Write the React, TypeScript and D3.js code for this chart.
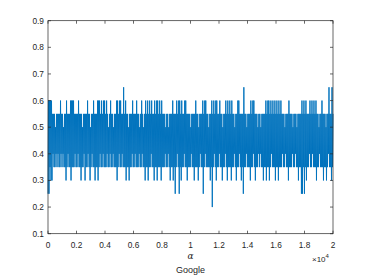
import React from "react";
import * as d3 from "d3";

// x axis: sample index, shown as value / 10^4
const xTicks = [0, 2000, 4000, 6000, 8000, 10000, 12000, 14000, 16000, 18000, 20000];
const xTickLabels = ["0", "0.2", "0.4", "0.6", "0.8", "1", "1.2", "1.4", "1.6", "1.8", "2"];
const yTicks = [0.1, 0.2, 0.3, 0.4, 0.5, 0.6, 0.7, 0.8, 0.9];
const yTickLabels = ["0.1", "0.2", "0.3", "0.4", "0.5", "0.6", "0.7", "0.8", "0.9"];

// upper swing of the signal, read left to right
const highs = [
  0.6, 0.6, 0.6, 0.6, 0.55, 0.55, 0.55, 0.5, 0.55, 0.55, 0.55, 0.55, 0.6, 0.55, 0.55, 0.5, 0.55, 0.55, 0.6, 0.55,
  0.55, 0.55, 0.6, 0.6, 0.6, 0.6, 0.55, 0.55, 0.55, 0.55, 0.6, 0.55, 0.55, 0.55, 0.5, 0.55, 0.55, 0.55, 0.55, 0.6,
  0.55, 0.55, 0.5, 0.55, 0.55, 0.6, 0.55, 0.55, 0.55, 0.6, 0.6, 0.6, 0.55, 0.6, 0.55, 0.6, 0.6, 0.55, 0.6, 0.55,
  0.5, 0.55, 0.6, 0.55, 0.55, 0.5, 0.55, 0.55, 0.6, 0.6, 0.55, 0.6, 0.6, 0.55, 0.55, 0.65, 0.55, 0.6, 0.55, 0.55,
  0.5, 0.55, 0.55, 0.55, 0.6, 0.55, 0.55, 0.55, 0.6, 0.55, 0.55, 0.5, 0.55, 0.6, 0.55, 0.5, 0.55, 0.6, 0.55, 0.6,
  0.55, 0.6, 0.55, 0.6, 0.55, 0.55, 0.6, 0.55, 0.6, 0.6, 0.55, 0.6, 0.55, 0.6, 0.55, 0.55, 0.55, 0.5, 0.55, 0.55,
  0.5, 0.55, 0.55, 0.55, 0.6, 0.55, 0.55, 0.55, 0.6, 0.55, 0.6, 0.6, 0.55, 0.6, 0.55, 0.55, 0.6, 0.6, 0.55, 0.55,
  0.55, 0.55, 0.5, 0.55, 0.55, 0.55, 0.55, 0.6, 0.55, 0.55, 0.5, 0.55, 0.55, 0.55, 0.6, 0.55, 0.6, 0.6, 0.55, 0.55,
  0.5, 0.55, 0.55, 0.6, 0.55, 0.6, 0.55, 0.6, 0.6, 0.55, 0.55, 0.6, 0.55, 0.55, 0.5, 0.55, 0.55, 0.6, 0.55, 0.6,
  0.55, 0.6, 0.55, 0.6, 0.55, 0.55, 0.5, 0.55, 0.55, 0.6, 0.6, 0.55, 0.55, 0.55, 0.55, 0.65, 0.55, 0.55, 0.5, 0.55,
  0.55, 0.55, 0.6, 0.55, 0.6, 0.6, 0.55, 0.55, 0.55, 0.5, 0.55, 0.55, 0.5, 0.55, 0.55, 0.55, 0.55, 0.6, 0.55, 0.6,
  0.6, 0.55, 0.6, 0.55, 0.6, 0.55, 0.6, 0.55, 0.6, 0.55, 0.6, 0.55, 0.6, 0.55, 0.55, 0.55, 0.5, 0.55, 0.55, 0.55,
  0.6, 0.55, 0.55, 0.55, 0.5, 0.55, 0.55, 0.55, 0.5, 0.55, 0.55, 0.55, 0.55, 0.6, 0.55, 0.6, 0.55, 0.6, 0.55, 0.55,
  0.55, 0.6, 0.55, 0.6, 0.55, 0.6, 0.55, 0.6, 0.55, 0.55, 0.5, 0.55, 0.55, 0.6, 0.55, 0.55, 0.55, 0.5, 0.55, 0.55,
  0.65, 0.55, 0.55, 0.65, 0.55,
];

// lower swing of the signal, read left to right
const lows = [
  0.25, 0.25, 0.35, 0.3, 0.3, 0.4, 0.35, 0.35, 0.4, 0.35, 0.4, 0.35, 0.35, 0.4, 0.35, 0.4, 0.35, 0.35, 0.3, 0.35,
  0.4, 0.35, 0.35, 0.3, 0.35, 0.35, 0.35, 0.4, 0.35, 0.35, 0.4, 0.35, 0.35, 0.3, 0.35, 0.35, 0.4, 0.3, 0.35, 0.35,
  0.4, 0.35, 0.3, 0.35, 0.4, 0.35, 0.35, 0.3, 0.35, 0.35, 0.3, 0.35, 0.4, 0.35, 0.35, 0.4, 0.35, 0.35, 0.35, 0.4,
  0.35, 0.35, 0.4, 0.35, 0.35, 0.4, 0.35, 0.35, 0.35, 0.3, 0.35, 0.4, 0.35, 0.35, 0.4, 0.35, 0.35, 0.35, 0.3, 0.35,
  0.35, 0.3, 0.35, 0.35, 0.4, 0.35, 0.35, 0.4, 0.35, 0.35, 0.35, 0.4, 0.35, 0.35, 0.4, 0.35, 0.35, 0.3, 0.35, 0.35,
  0.3, 0.35, 0.35, 0.4, 0.35, 0.35, 0.3, 0.35, 0.35, 0.3, 0.35, 0.35, 0.35, 0.3, 0.35, 0.35, 0.35, 0.4, 0.35, 0.35,
  0.4, 0.35, 0.3, 0.35, 0.35, 0.3, 0.35, 0.25, 0.35, 0.4, 0.35, 0.25, 0.35, 0.3, 0.35, 0.35, 0.4, 0.35, 0.35, 0.3,
  0.35, 0.35, 0.35, 0.4, 0.35, 0.35, 0.3, 0.35, 0.35, 0.35, 0.3, 0.35, 0.4, 0.35, 0.35, 0.25, 0.35, 0.4, 0.35, 0.35,
  0.35, 0.35, 0.3, 0.35, 0.2, 0.35, 0.4, 0.35, 0.3, 0.35, 0.35, 0.4, 0.35, 0.35, 0.3, 0.35, 0.35, 0.4, 0.35, 0.3,
  0.35, 0.35, 0.35, 0.3, 0.35, 0.35, 0.4, 0.35, 0.3, 0.35, 0.35, 0.4, 0.35, 0.3, 0.35, 0.25, 0.35, 0.35, 0.4, 0.35,
  0.35, 0.35, 0.3, 0.35, 0.35, 0.4, 0.35, 0.3, 0.35, 0.35, 0.4, 0.35, 0.4, 0.35, 0.35, 0.3, 0.35, 0.35, 0.3, 0.35,
  0.35, 0.3, 0.35, 0.4, 0.35, 0.35, 0.35, 0.3, 0.35, 0.35, 0.3, 0.35, 0.35, 0.35, 0.4, 0.35, 0.35, 0.4, 0.35, 0.35,
  0.3, 0.35, 0.35, 0.35, 0.4, 0.35, 0.35, 0.4, 0.35, 0.35, 0.3, 0.35, 0.35, 0.25, 0.25, 0.35, 0.25, 0.35, 0.3, 0.35,
  0.35, 0.4, 0.35, 0.35, 0.4, 0.35, 0.35, 0.35, 0.3, 0.35, 0.35, 0.4, 0.35, 0.35, 0.35, 0.3, 0.35, 0.35, 0.3, 0.35,
  0.4, 0.35, 0.35, 0.3, 0.35,
];

const W = 368;
const H = 276;
const margin = { top: 20.7, right: 35, bottom: 42.3, left: 48 };
const axisColor = "#262626";
const lineColor = "#0072BD";
const font = "'Liberation Sans', Arial, Helvetica, sans-serif";

export default function App() {
  const x = d3.scaleLinear().domain([0, 20000]).range([margin.left, W - margin.right]);
  const y = d3.scaleLinear().domain([0.1, 0.9]).range([H - margin.bottom, margin.top]);

  // interleave the swings into one series
  const samples: number[] = [];
  highs.forEach((h, i) => {
    samples.push(lows[i]);
    samples.push(h);
  });
  const step = 20000 / (samples.length - 1);

  const line = d3
    .line<number>()
    .x((_, i) => x(i * step))
    .y((d) => y(d));

  const x0 = x.range()[0];
  const x1 = x.range()[1];
  const y0 = y.range()[0];
  const y1 = y.range()[1];
  const tick = 3;

  return (
    <svg
      width={W}
      height={H}
      style={{ position: "absolute", left: 0, top: 0, background: "#fff" }}
      fontFamily={font}
    >
      <rect x={0} y={0} width={W} height={H} fill="#fff" />
      <path d={line(samples) ?? ""} fill="none" stroke={lineColor} strokeWidth={0.95} />

      {/* box */}
      <rect x={x0} y={y1} width={x1 - x0} height={y0 - y1} fill="none" stroke={axisColor} strokeWidth={0.7} />

      {xTicks.map((t, i) => (
        <g key={"x" + t}>
          <line x1={x(t)} x2={x(t)} y1={y0} y2={y0 - tick} stroke={axisColor} strokeWidth={0.7} />
          <line x1={x(t)} x2={x(t)} y1={y1} y2={y1 + tick} stroke={axisColor} strokeWidth={0.7} />
          <text x={x(t)} y={y0 + 14} textAnchor="middle" fontSize={8.3} fill={axisColor}>
            {xTickLabels[i]}
          </text>
        </g>
      ))}

      {yTicks.map((t, i) => (
        <g key={"y" + t}>
          <line x1={x0} x2={x0 + tick} y1={y(t)} y2={y(t)} stroke={axisColor} strokeWidth={0.7} />
          <line x1={x1} x2={x1 - tick} y1={y(t)} y2={y(t)} stroke={axisColor} strokeWidth={0.7} />
          <text x={x0 - 4} y={y(t) + 3} textAnchor="end" fontSize={8.3} fill={axisColor}>
            {yTickLabels[i]}
          </text>
        </g>
      ))}

      <text x={x1 - 21} y={y0 + 28} fontSize={8} fill={axisColor}>
        ×10
        <tspan fontSize={6} dy={-4}>4</tspan>
      </text>

      <text
        x={(x0 + x1) / 2}
        y={y0 + 25}
        textAnchor="middle"
        fontSize={9}
        fontStyle="italic"
        fontFamily="'DejaVu Serif', 'Liberation Serif', serif"
        fill={axisColor}
      >
        α
      </text>
      <text x={(x0 + x1) / 2} y={y0 + 39.5} textAnchor="middle" fontSize={9} fill={axisColor}>
        Google
      </text>
    </svg>
  );
}
